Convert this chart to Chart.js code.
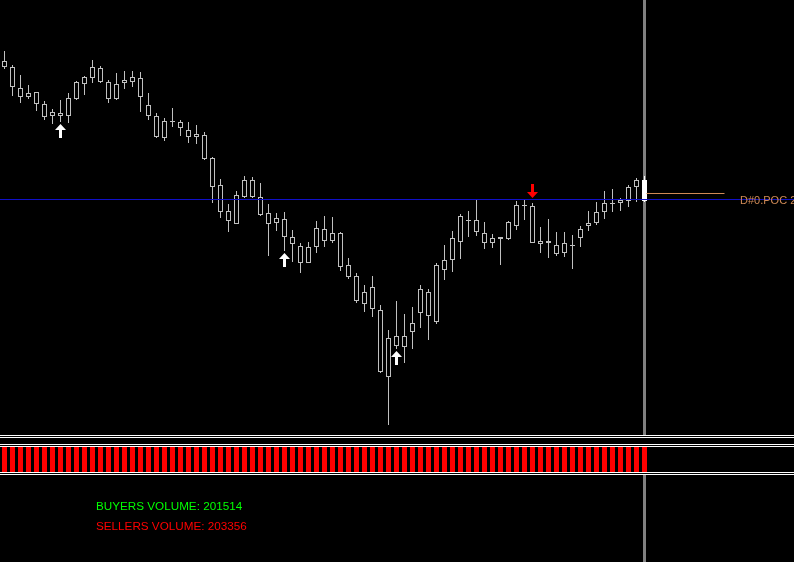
<!DOCTYPE html>
<html lang="en">
<head>
  <meta charset="UTF-8">
  <title>Buyers / Sellers Volume</title>
  <script src="https://cdn.jsdelivr.net/npm/chart.js"></script>
  <style>
    html, body { margin: 0; padding: 0; background: #000; overflow: hidden; }
    #wrap { position: relative; width: 794px; height: 562px; }
    canvas { position: absolute; left: 0; display: block; }
    #priceChart { top: 0; }
    #volChart { top: 435px; }
  </style>
</head>
<body>
  <div id="wrap">
    <canvas id="priceChart" width="794" height="435"></canvas>
    <canvas id="volChart" width="794" height="127"></canvas>
  </div>

  <script>
    // candles, price in points
    const open  = [374,368,347,342,343,331,323,319,319,336,351,357,367,353,336,352,353,357,330,319,
                   297,313,313,305,301,300,277,250,224,211,238,255,238,222,212,216,198,189,172,188,
                   206,194,202,170,159,143,126,125,58,89,99,103,122,143,113,165,175,193,214,215,
                   202,192,198,196,209,229,229,194,192,190,182,189,197,209,212,223,231,232,234,248,234];
    const close = [368,348,338,338,331,318,319,322,337,353,358,368,353,336,351,355,358,338,319,298,
                   314,314,307,298,298,276,248,223,214,240,255,238,220,211,217,198,191,172,188,207,
                   194,202,168,158,134,131,148,63,97,99,88,112,146,119,170,175,197,219,215,203,
                   192,197,196,213,230,230,192,191,194,181,192,190,206,212,223,232,232,235,248,255,255];
    const high  = [384,370,360,350,343,334,326,335,342,354,359,375,369,355,362,364,364,363,342,322,
                   317,327,315,313,310,303,278,256,231,244,259,258,252,231,222,223,205,192,193,214,
                   219,218,203,177,162,150,159,130,105,134,121,128,150,146,172,190,204,221,224,235,
                   213,201,198,214,234,236,232,208,216,203,203,200,209,224,233,244,246,237,250,257,259];
    const low   = [366,339,332,336,324,315,311,313,312,335,340,352,352,332,335,346,348,323,315,297,
                   294,308,299,292,291,275,232,217,203,211,237,237,219,179,204,184,173,162,172,182,
                   188,192,164,156,132,123,118,62,10,86,72,86,107,95,111,155,163,176,198,199,
                   186,187,170,195,205,215,192,182,177,179,178,166,188,204,210,216,223,224,228,233,233];

    // signal arrows: bar index and level
    const buySignalBars = [7, 35, 49];
    const buySignalLevels = [304, 175, 77];
    const sellSignalBars = [66];
    const sellSignalLevels = [244];

    // horizontal objects
    const pocLevel = 236;
    const pocLabel = "D#0.POC 2";
    const priceLineLevel = 242;
    const priceLineEnd = 90;

    // bottom window: 1 = sellers dominate the bar
    const sellersDominant = [1,1,1,1,1,1,1,1,1,1,1,1,1,1,1,1,1,1,1,1,
                             1,1,1,1,1,1,1,1,1,1,1,1,1,1,1,1,1,1,1,1,
                             1,1,1,1,1,1,1,1,1,1,1,1,1,1,1,1,1,1,1,1,
                             1,1,1,1,1,1,1,1,1,1,1,1,1,1,1,1,1,1,1,1,1];
    const buyersVolume = 201514;
    const sellersVolume = 203356;

    const lastBar = open.length - 1;
    const xMin = -0.5625, xMax = 98.6875;
    const candleColor = "#c0c0c0";

    function makeArrow(color, down) {
      const c = document.createElement("canvas");
      c.width = 11; c.height = 14;
      const g = c.getContext("2d");
      if (down) { g.translate(0, 14); g.scale(1, -1); }
      g.fillStyle = color;
      g.beginPath();
      g.moveTo(5.5, 0); g.lineTo(11, 6); g.lineTo(7, 6); g.lineTo(7, 14);
      g.lineTo(4, 14); g.lineTo(4, 6); g.lineTo(0, 6);
      g.closePath();
      g.fill();
      return c;
    }

    const mainOverlay = {
      id: "mainOverlay",
      beforeDatasetsDraw(chart) {
        const ctx = chart.ctx, x = chart.scales.x;
        const cx = x.getPixelForValue(lastBar);
        ctx.save();
        ctx.fillStyle = "#808080";
        ctx.fillRect(Math.round(cx) - 2, 0, 3, chart.height);
        ctx.restore();
      },
      afterDatasetsDraw(chart) {
        const ctx = chart.ctx, x = chart.scales.x, y = chart.scales.y;
        ctx.save();
        const py = Math.round(y.getPixelForValue(pocLevel)) + 0.5;
        ctx.strokeStyle = "#1010c8";
        ctx.lineWidth = 1;
        ctx.beginPath(); ctx.moveTo(0, py); ctx.lineTo(chart.width, py); ctx.stroke();

        const ly = Math.round(y.getPixelForValue(priceLineLevel)) + 0.5;
        ctx.strokeStyle = "#d08a55";
        ctx.beginPath();
        ctx.moveTo(x.getPixelForValue(lastBar) + 2, ly);
        ctx.lineTo(x.getPixelForValue(priceLineEnd), ly);
        ctx.stroke();

        ctx.fillStyle = "#d08a55";
        ctx.font = '11px "Liberation Sans", Arial, sans-serif';
        ctx.textBaseline = "alphabetic";
        ctx.fillText(pocLabel, 740, py + 4);
        ctx.restore();
      }
    };

    new Chart(document.getElementById("priceChart"), {
      type: "bar",
      data: {
        datasets: [
          {
            type: "line",
            data: buySignalBars.map((b, i) => ({ x: b, y: buySignalLevels[i] }))
              .concat(sellSignalBars.map((b, i) => ({ x: b, y: sellSignalLevels[i] }))),
            showLine: false,
            pointStyle: buySignalBars.map(() => makeArrow("#ffffff", false))
              .concat(sellSignalBars.map(() => makeArrow("#ff0000", true))),
            pointRadius: 6,
            pointHoverRadius: 6
          },
          {
            data: open.map((o, i) => ({ x: i, y: [o, close[i]] })),
            backgroundColor: open.map((o, i) => i === lastBar ? "#ffffff" : "#000000"),
            borderColor: open.map((o, i) => i === lastBar ? "#ffffff" : candleColor),
            borderWidth: 1,
            borderSkipped: false,
            barThickness: 5
          },
          {
            data: high.map((h, i) => ({ x: i, y: [low[i], h] })),
            backgroundColor: high.map((h, i) => i === lastBar ? "#ffffff" : candleColor),
            borderWidth: 0,
            barThickness: 1
          }
        ]
      },
      options: {
        responsive: false,
        animation: false,
        layout: { padding: 0, autoPadding: false },
        datasets: { bar: { grouped: false, inflateAmount: 0 } },
        plugins: { legend: { display: false }, tooltip: { enabled: false } },
        scales: {
          x: { type: "linear", min: xMin, max: xMax, offset: false, display: false },
          y: { min: 0, max: 435, display: false }
        }
      },
      plugins: [mainOverlay]
    });

    const volOverlay = {
      id: "volOverlay",
      afterDatasetsDraw(chart) {
        const ctx = chart.ctx, x = chart.scales.x;
        ctx.save();
        ctx.strokeStyle = "#ffffff";
        ctx.lineWidth = 1;
        [0, 2, 9, 11, 37, 39].forEach(r => {
          ctx.beginPath(); ctx.moveTo(0, r + 0.5); ctx.lineTo(chart.width, r + 0.5); ctx.stroke();
        });
        ctx.fillStyle = "#808080";
        ctx.fillRect(Math.round(x.getPixelForValue(lastBar)) - 2, 40, 3, chart.height - 40);

        ctx.font = '11.7px "Liberation Sans", Arial, sans-serif';
        ctx.textBaseline = "alphabetic";
        ctx.fillStyle = "#00ff00";
        ctx.fillText("BUYERS VOLUME: " + buyersVolume, 96, 75);
        ctx.fillStyle = "#ff0000";
        ctx.fillText("SELLERS VOLUME: " + sellersVolume, 96, 95);
        ctx.restore();
      }
    };

    new Chart(document.getElementById("volChart"), {
      type: "bar",
      data: {
        datasets: [{
          data: sellersDominant.map((v, i) => ({ x: i, y: v })),
          backgroundColor: "#ff0000",
          borderWidth: 0,
          barThickness: 5
        }]
      },
      options: {
        responsive: false,
        animation: false,
        layout: { padding: { top: 12, bottom: 90, left: 0, right: 0 } },
        datasets: { bar: { grouped: false, inflateAmount: 0 } },
        plugins: { legend: { display: false }, tooltip: { enabled: false } },
        scales: {
          x: { type: "linear", min: xMin, max: xMax, offset: false, display: false },
          y: { min: 0, max: 1, display: false }
        }
      },
      plugins: [volOverlay]
    });
  </script>
</body>
</html>
